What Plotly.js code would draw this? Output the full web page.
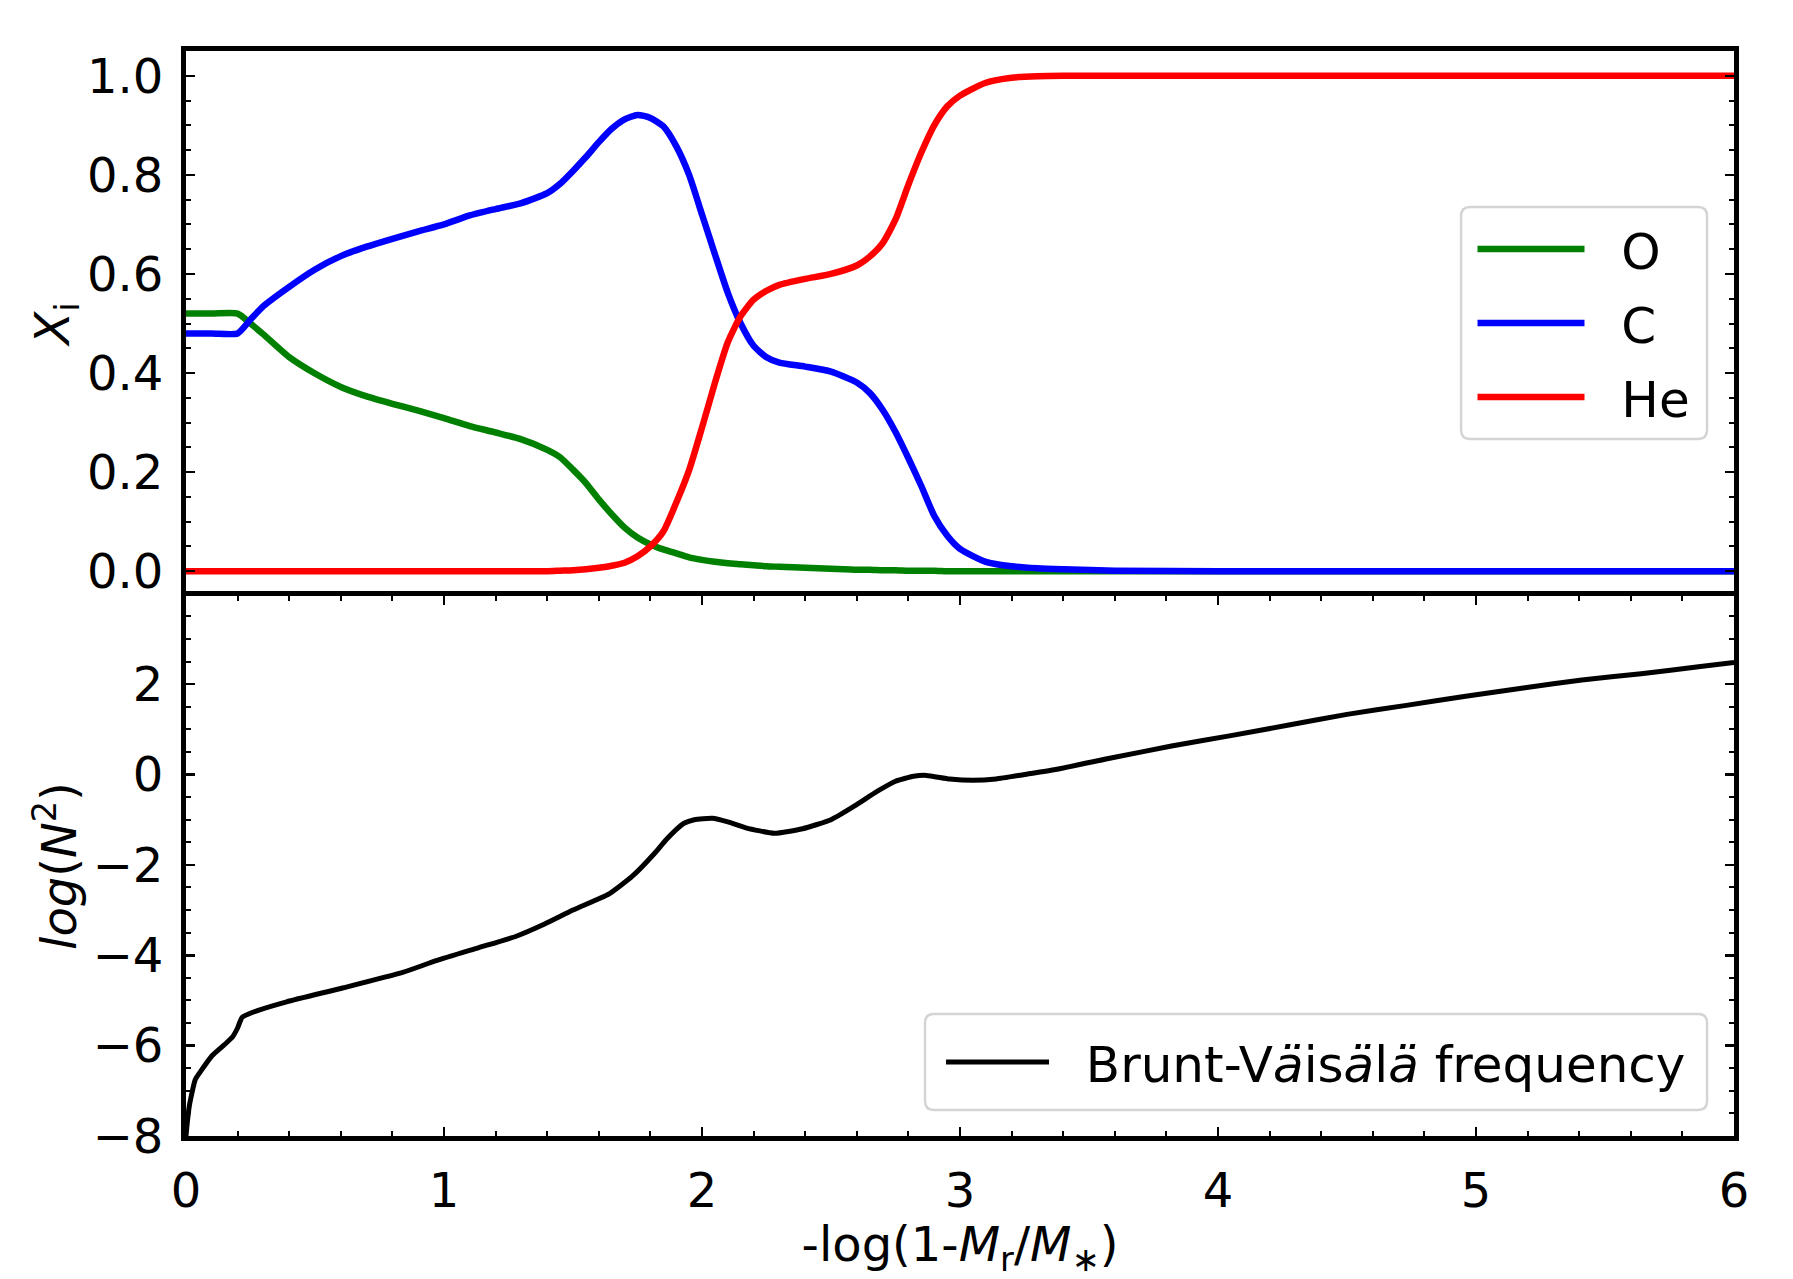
<!DOCTYPE html>
<html>
<head>
<meta charset="utf-8">
<script src="https://cdn.plot.ly/plotly-3.0.1.min.js"></script>
<style>
  body { margin: 0; background: #fff; }
  #chart { width: 1793px; height: 1279px; }
</style>
</head>
<body>
<div id="chart"></div>
<script>
// mass coordinate -log(1-Mr/M*) for the abundance panel
const xAbund = [0, 0.1, 0.2, 0.25, 0.3, 0.4, 0.5, 0.6, 0.7, 0.8, 0.9, 1.0, 1.1, 1.2, 1.3, 1.4, 1.45,
    1.5, 1.55, 1.6, 1.65, 1.7, 1.75, 1.8, 1.85, 1.9, 1.95, 2.0, 2.05, 2.1, 2.15, 2.2,
    2.25, 2.3, 2.4, 2.5, 2.6, 2.65, 2.7, 2.75, 2.8, 2.85, 2.9, 2.95, 3.0, 3.1, 3.2,
    3.3, 3.4, 3.6, 4.0, 5.0, 6.0];

// oxygen
const xO = [0.52, 0.52, 0.52, 0.50, 0.478, 0.432, 0.399, 0.372, 0.353, 0.338, 0.324, 0.309, 0.293, 0.280, 0.266, 0.245, 0.230,
    0.205, 0.178, 0.145, 0.115, 0.088, 0.068, 0.054, 0.044, 0.036, 0.028, 0.023, 0.019, 0.016, 0.014, 0.012,
    0.010, 0.009, 0.007, 0.005, 0.003, 0.003, 0.002, 0.002, 0.001, 0.001, 0.001, 0.0, 0.0, 0.0, 0.0,
    0.0, 0.0, 0.0, 0.0, 0.0, 0.0];

// carbon
const xC = [0.48, 0.48, 0.48, 0.508, 0.535, 0.574, 0.609, 0.636, 0.655, 0.671, 0.686, 0.700, 0.718, 0.731, 0.743, 0.763, 0.782,
    0.808, 0.836, 0.866, 0.893, 0.912, 0.921, 0.915, 0.898, 0.858, 0.800, 0.720, 0.640, 0.562, 0.500, 0.455,
    0.432, 0.421, 0.413, 0.403, 0.381, 0.360, 0.326, 0.281, 0.228, 0.172, 0.112, 0.072, 0.045, 0.019, 0.010,
    0.006, 0.004, 0.001, 0.0, 0.0, 0.0];

// helium
const xHe = [0.0, 0.0, 0.0, 0.0, 0.0, 0.0, 0.0, 0.0, 0.0, 0.0, 0.0, 0.0, 0.0, 0.0, 0.0, 0.0, 0.001,
    0.002, 0.004, 0.007, 0.011, 0.017, 0.030, 0.050, 0.080, 0.138, 0.204, 0.290, 0.380, 0.462, 0.515, 0.548,
    0.566, 0.578, 0.590, 0.600, 0.617, 0.635, 0.662, 0.710, 0.780, 0.845, 0.900, 0.938, 0.960, 0.986, 0.996,
    0.999, 1.0, 1.0, 1.0, 1.0, 1.0];

// Brunt-Vaisala frequency, log(N^2)
const xBV = [0, 0.005, 0.013, 0.036, 0.058, 0.10, 0.147, 0.18, 0.20, 0.218, 0.28, 0.39, 0.61, 0.84, 0.97,
    1.13, 1.28, 1.39, 1.50, 1.64, 1.73, 1.82, 1.86, 1.90, 1.93, 1.97, 2.04, 2.10, 2.17, 2.28, 2.39, 2.50, 2.59,
    2.68, 2.75, 2.82, 2.87, 2.96, 3.05, 3.14, 3.25, 3.37, 3.59, 3.82, 4.05, 4.28, 4.50, 4.73,
    4.96, 5.19, 5.41, 5.64, 5.87, 6.0];
const logN2 = [-8.0, -7.7, -7.33, -6.75, -6.56, -6.23, -5.99, -5.81, -5.61, -5.37, -5.22, -5.03, -4.72, -4.38, -4.12,
    -3.84, -3.58, -3.31, -3.0, -2.64, -2.25, -1.72, -1.45, -1.22, -1.08, -1.0, -0.97, -1.05, -1.18, -1.30, -1.20, -1.0, -0.70,
    -0.37, -0.15, -0.04, -0.02, -0.10, -0.13, -0.10, 0.0, 0.11, 0.37, 0.63, 0.86, 1.10, 1.33, 1.53,
    1.73, 1.92, 2.09, 2.23, 2.39, 2.48];

const FONT = 'DejaVu Sans, sans-serif';
const GAP = '\u00a0\u00a0';

function abundTrace(y, name, color){
    return {
        x: xAbund, y: y, name: GAP + name, type: 'scatter', mode: 'lines',
        xaxis: 'x', yaxis: 'y', legendgroup: name,
        line: {color: color, width: 6.5, shape: 'spline', smoothing: 0.6},
        legend: 'legend'
    };
}

const traces = [
    abundTrace(xO, 'O', '#008000'),
    abundTrace(xC, 'C', '#0000ff'),
    abundTrace(xHe, 'He', '#ff0000'),
    {
        x: xBV, y: logN2, name: GAP + 'Brunt-V<i>ä</i>is<i>ä</i>l<i>ä</i> frequency',
        type: 'scatter', mode: 'lines', xaxis: 'x2', yaxis: 'y2',
        line: {color: '#000000', width: 5, shape: 'spline', smoothing: 0.5},
        legend: 'legend2'
    }
];

// rounded legend frame in paper coords (matplotlib fancybox look)
const PW = 1548, PH = 1085;
function roundedBox(x0, x1, y0, y1){
    const rx = 9 / PW, ry = 9 / PH;
    const p = 'M' + (x0 + rx) + ',' + y0 +
        ' L' + (x1 - rx) + ',' + y0 + ' Q' + x1 + ',' + y0 + ' ' + x1 + ',' + (y0 + ry) +
        ' L' + x1 + ',' + (y1 - ry) + ' Q' + x1 + ',' + y1 + ' ' + (x1 - rx) + ',' + y1 +
        ' L' + (x0 + rx) + ',' + y1 + ' Q' + x0 + ',' + y1 + ' ' + x0 + ',' + (y1 - ry) +
        ' L' + x0 + ',' + (y0 + ry) + ' Q' + x0 + ',' + y0 + ' ' + (x0 + rx) + ',' + y0 + ' Z';
    return {
        type: 'path', xref: 'paper', yref: 'paper', path: p, layer: 'above',
        fillcolor: 'rgba(255,255,255,0.85)', line: {color: '#d4d4d4', width: 2.5}
    };
}

// shared frame/tick styling (matplotlib look: inward ticks on all sides)
const frame = {
    showline: true, linecolor: '#000', linewidth: 5,
    showgrid: false, zeroline: false,
    ticks: 'inside', ticklen: 9, tickwidth: 2.5, tickcolor: '#000',
    mirror: 'allticks',
    tickfont: {family: FONT, size: 48, color: '#000'},
    ticklabelstandoff: 8
};

const split = 540 / 1085;

const layout = {
    width: 1793, height: 1279,
    margin: {l: 186, r: 59, t: 51, b: 143, pad: 0},
    paper_bgcolor: '#fff', plot_bgcolor: '#fff',
    font: {family: FONT, size: 48, color: '#000'},
    showlegend: true,
    xaxis: {
        domain: [0, 1], anchor: 'y', range: [0, 6], side: 'top',
        showline: true, linecolor: '#000', linewidth: 5, mirror: false,
        showgrid: false, zeroline: false, ticks: '', showticklabels: false
    },
    yaxis: Object.assign({}, frame, {
        domain: [split, 1], anchor: 'x', range: [-0.05, 1.05],
        tick0: 0, dtick: 0.2, tickformat: '.1f',
        minor: {dtick: 0.05, ticks: 'inside', ticklen: 5, tickwidth: 2, tickcolor: '#000'},
        title: {text: '<i>X</i><sub>i</sub>', font: {family: FONT, size: 48}, standoff: 2}
    }),
    xaxis2: Object.assign({}, frame, {
        domain: [0, 1], anchor: 'y2', range: [0, 6], tick0: 0, dtick: 1,
        minor: {dtick: 0.2, ticks: 'inside', ticklen: 5, tickwidth: 2, tickcolor: '#000'},
        title: {text: '-log(1-<i>M</i><sub>r</sub>/<i>M</i><sub>∗</sub>)', font: {family: FONT, size: 48}}
    }),
    yaxis2: Object.assign({}, frame, {
        domain: [0, split], anchor: 'x2', range: [-8, 3.95], tick0: 0, dtick: 2,
        minor: {dtick: 0.5, ticks: 'inside', ticklen: 5, tickwidth: 2, tickcolor: '#000'},
        title: {text: '<i>log</i>(<i>N</i><sup>2</sup>)', font: {family: FONT, size: 48}}
    }),
    shapes: [
        roundedBox(0.8237, 0.9826, 0.6424, 0.8562),
        roundedBox(0.4774, 0.9826, 0.024, 0.1124)
    ],
    legend: {
        x: 0.9031, y: 0.7493, xanchor: 'center', yanchor: 'middle',
        bgcolor: 'rgba(0,0,0,0)', borderwidth: 0,
        font: {family: FONT, size: 50, color: '#000'}, itemwidth: 107,
        tracegroupgap: 6
    },
    legend2: {
        x: 0.730, y: 0.0682, xanchor: 'center', yanchor: 'middle',
        bgcolor: 'rgba(0,0,0,0)', borderwidth: 0,
        font: {family: FONT, size: 50, color: '#000'}, itemwidth: 103
    }
};

Plotly.newPlot('chart', traces, layout, {displayModeBar: false, staticPlot: true});
</script>
</body>
</html>
